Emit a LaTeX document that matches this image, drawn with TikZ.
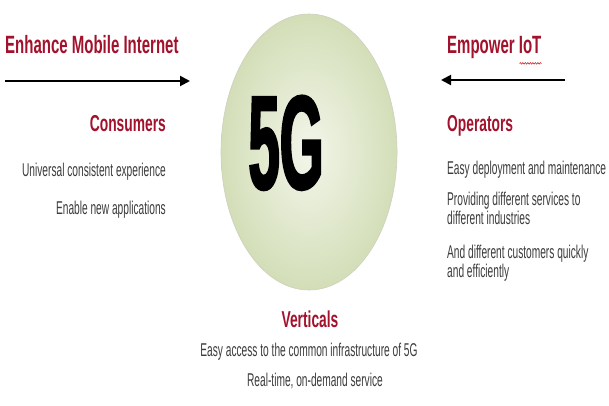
\documentclass[tikz,border=0pt]{standalone}
\usepackage{fontspec}
\setmainfont{Liberation Sans}
\newfontfamily\narrow[FakeStretch=0.55]{Liberation Sans}
\newfontfamily\narrowbf[FakeStretch=0.6]{Liberation Sans Bold}
\newfontfamily\bigbf[FakeStretch=0.42,FakeBold=1.5]{Liberation Sans Bold}
\usetikzlibrary{arrows.meta,decorations.pathmorphing,shapes.geometric}
\definecolor{headred}{HTML}{A3122C}
\definecolor{bodygrey}{HTML}{3C3C3C}
\definecolor{ballin}{HTML}{F3F6EA}
\definecolor{ballout}{HTML}{D3DEB8}
\tikzset{
  head/.style={font=\narrowbf\fontsize{25}{28}\selectfont, text=headred, inner sep=0pt},
  sub/.style={font=\narrowbf\fontsize{23}{26}\selectfont, text=headred, inner sep=0pt},
  body/.style={font=\narrow\fontsize{18.5}{20}\selectfont, text=bodygrey, inner sep=0pt},
  bigarrow/.style={line width=2pt, -{Triangle[length=10pt,width=10pt]}},
}
\begin{document}
\begin{tikzpicture}[x=1pt,y=-1pt]
\useasboundingbox (0,0) rectangle (609,405);
\fill[white] (0,0) rectangle (609,405);
% ellipse
\node (ball) [ellipse, minimum width=176pt, minimum height=276pt, inner sep=0pt, draw=ballout!80!black!60, line width=0.6pt, inner color=ballin, outer color=ballout] at (309,152) {};
\node (fiveg) [font=\bigbf\fontsize{134}{134}\selectfont, inner sep=0pt, anchor=base] at (286,189) {5G};
% left header
\node (emi) [head, anchor=base west] at (5,53) {Enhance Mobile Internet};
\coordinate (la) at (5,81);
\coordinate (lb) at (190,81);
\draw[bigarrow] (la) -- (lb);
% right header
\node (eiot) [head, anchor=base west] at (447,53) {Empower IoT};
\draw[red!80!black, line width=0.5pt, decorate, decoration={snake, amplitude=0.8pt, segment length=2.5pt}] ([xshift=-22pt,yshift=-5pt]eiot.south east) -- ([yshift=-5pt]eiot.south east);
\coordinate (ra) at (565,80);
\coordinate (rb) at (441,80);
\draw[bigarrow] (ra) -- (rb);
% consumers
\node (cons) [sub, anchor=base east] at (166,131) {Consumers};
\node (c1) [body, anchor=base east] at (166,176) {Universal consistent experience};
\node (c2) [body, anchor=base east] at (166,214) {Enable new applications};
% operators
\node (oper) [sub, anchor=base west] at (447,131) {Operators};
\node (o1) [body, anchor=base west] at (447,174) {Easy deployment and maintenance};
\node (o2) [body, anchor=base west] at (447,205) {Providing different services to};
\node (o3) [body, anchor=base west] at (447,224) {different industries};
\node (o4) [body, anchor=base west] at (447,258) {And different customers quickly};
\node (o5) [body, anchor=base west] at (447,277) {and efficiently};
% verticals
\node (vert) [sub, anchor=base] at (310,327) {Verticals};
\node (v1) [body, anchor=base] at (309,356) {Easy access to the common infrastructure of 5G};
\node (v2) [body, anchor=base] at (315,386) {Real-time, on-demand service};
\end{tikzpicture}
\end{document}
